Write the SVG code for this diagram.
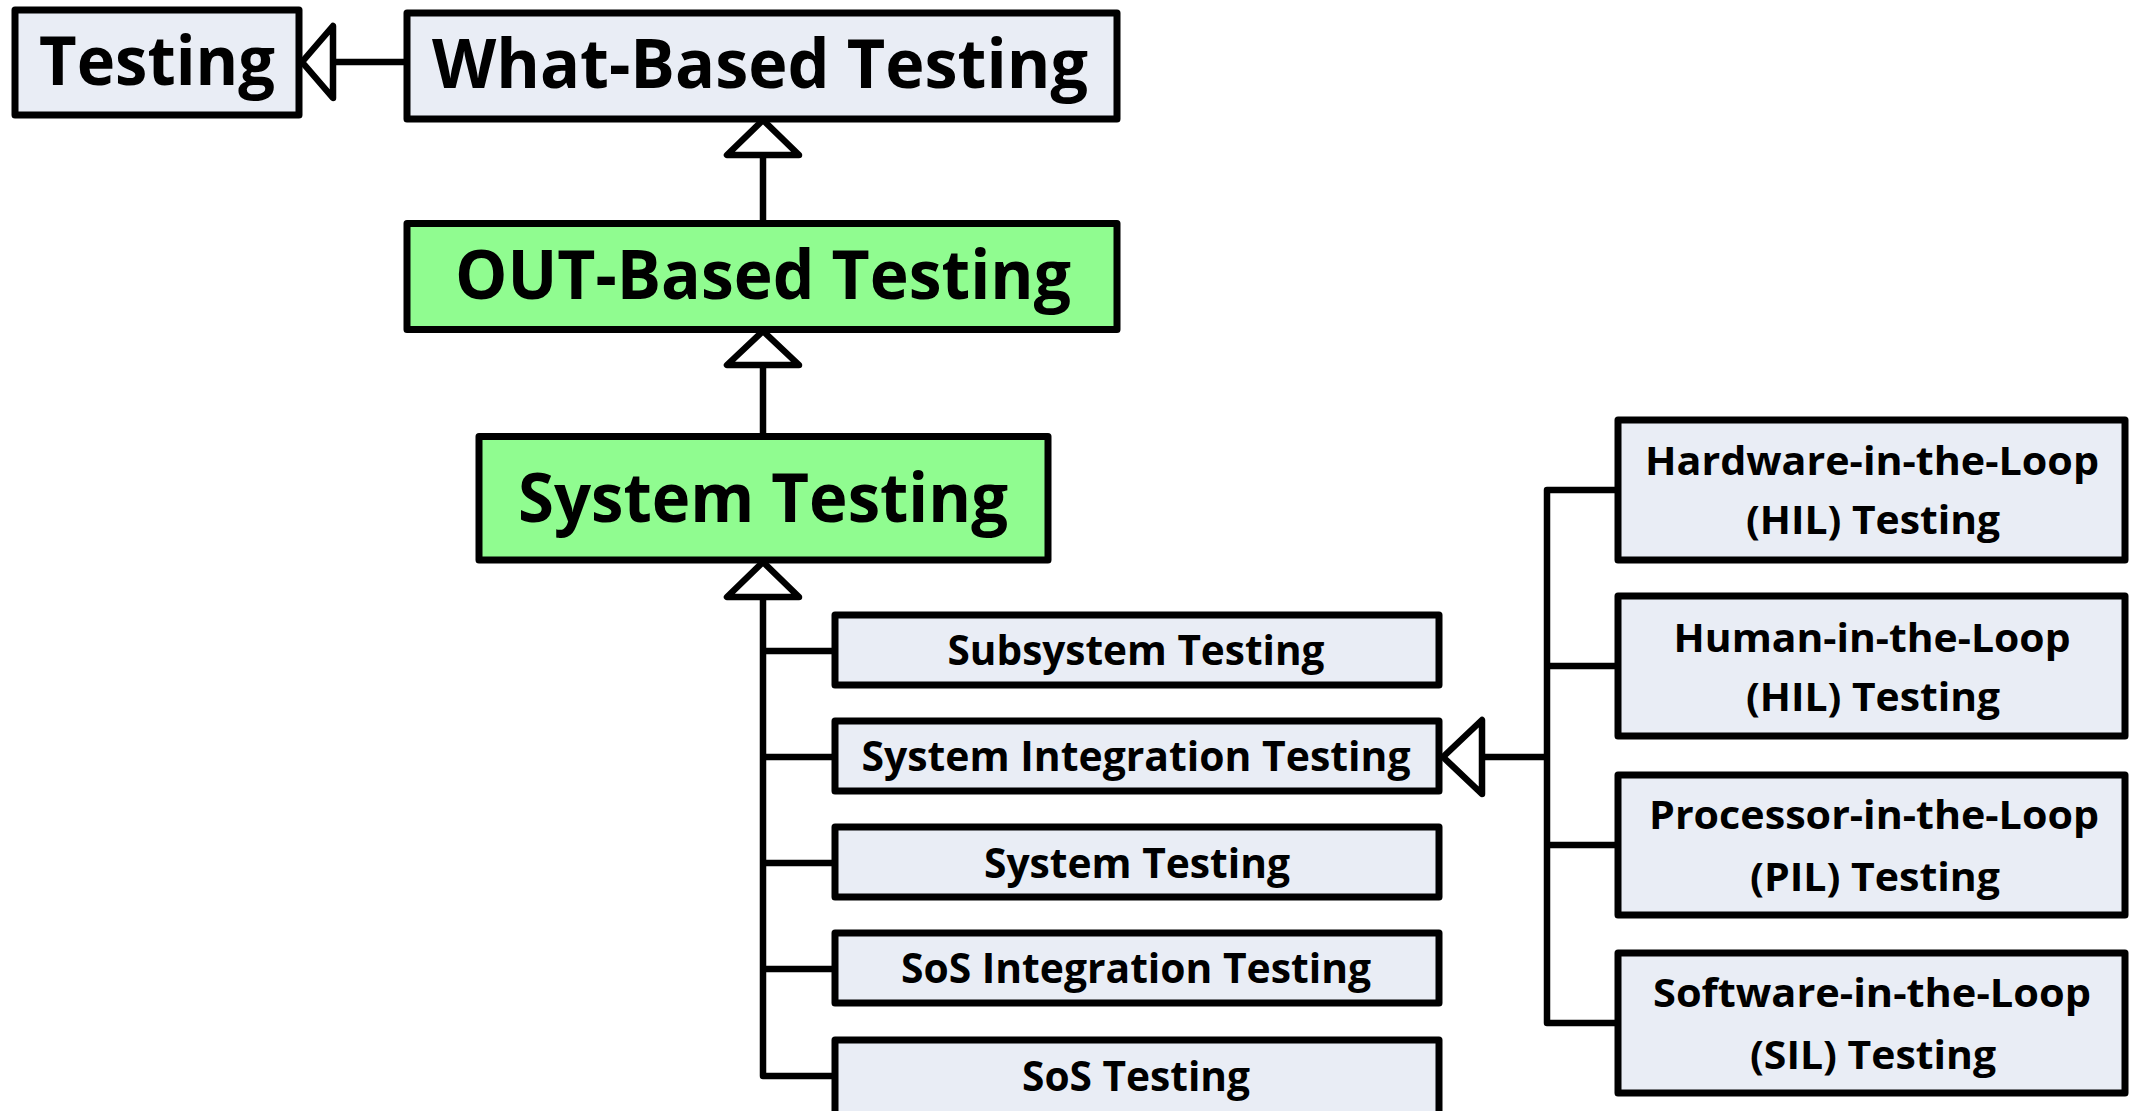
<svg xmlns="http://www.w3.org/2000/svg" width="2132" height="1111" viewBox="0 0 2132 1111">
<style>
.box{fill:#E9EDF5;stroke:#000;stroke-width:7;stroke-linejoin:round}
.grn{fill:#90FC90;stroke:#000;stroke-width:7;stroke-linejoin:round}
.ln{fill:none;stroke:#000;stroke-width:6.5;stroke-linecap:square;stroke-linejoin:round}
.tri{fill:#fff;stroke:#000;stroke-width:6.5;stroke-linejoin:round}
text{font-family:"Open Sans","Liberation Sans",sans-serif;font-weight:bold;fill:#000;text-anchor:middle;font-variant-ligatures:none}
.big{font-size:68px}
.mid{font-size:42px}
.sm{font-size:39px}
</style>
<rect width="2132" height="1111" fill="#fff"/>
<g id="connectors">
<path class="ln" d="M333 62H404"/>
<polygon class="tri" points="302,62 333,26 333,98"/>
<path class="ln" d="M763 155V220"/>
<polygon class="tri" points="763,120 727,155 799,155"/>
<path class="ln" d="M763 365V433"/>
<polygon class="tri" points="763,331 727,365 799,365"/>
<path class="ln" d="M763 597V1076H832M763 651H832M763 757H832M763 863H832M763 969H832"/>
<polygon class="tri" points="763,562 727,597 799,597"/>
<path class="ln" d="M1482 757H1547M1615 490H1547V1023H1615M1547 666H1615M1547 845H1615"/>
<polygon class="tri" points="1443,757 1482,720 1482,794"/>
</g>
<g id="testing"><rect class="box" x="15" y="10" width="284" height="105"/><text class="big" x="157" y="85" textLength="236" lengthAdjust="spacingAndGlyphs">Testing</text></g>
<g id="what-based"><rect class="box" x="407" y="13" width="710" height="106"/><text class="big" x="760" y="88" textLength="656" lengthAdjust="spacingAndGlyphs">What-Based Testing</text></g>
<g id="out-based"><rect class="grn" x="407" y="223.5" width="710" height="106"/><text class="big" x="763" y="299" textLength="616" lengthAdjust="spacingAndGlyphs">OUT-Based Testing</text></g>
<g id="system-testing-main"><rect class="grn" x="479" y="436.5" width="569" height="123.5"/><text class="big" x="763" y="522" textLength="490" lengthAdjust="spacingAndGlyphs">System Testing</text></g>
<g id="subsystem"><rect class="box" x="835" y="615" width="604" height="70"/><text class="mid" x="1136" y="665" textLength="377" lengthAdjust="spacingAndGlyphs">Subsystem Testing</text></g>
<g id="sit"><rect class="box" x="835" y="721" width="604" height="70"/><text class="mid" x="1136" y="771" textLength="549" lengthAdjust="spacingAndGlyphs">System Integration Testing</text></g>
<g id="system-testing"><rect class="box" x="835" y="827" width="604" height="70"/><text class="mid" x="1137" y="878" textLength="306" lengthAdjust="spacingAndGlyphs">System Testing</text></g>
<g id="sos-int"><rect class="box" x="835" y="933" width="604" height="70"/><text class="mid" x="1136" y="983" textLength="470" lengthAdjust="spacingAndGlyphs">SoS Integration Testing</text></g>
<g id="sos"><rect class="box" x="835" y="1040" width="604" height="90"/><text class="mid" x="1136" y="1091" textLength="228" lengthAdjust="spacingAndGlyphs">SoS Testing</text></g>
<g id="hw-hil"><rect class="box" x="1618" y="420" width="507" height="140"/><text class="sm" x="1872" y="475" textLength="454" lengthAdjust="spacingAndGlyphs">Hardware-in-the-Loop</text><text class="sm" x="1873" y="534" textLength="254" lengthAdjust="spacingAndGlyphs">(HIL) Testing</text></g>
<g id="human-hil"><rect class="box" x="1618" y="596" width="507" height="140"/><text class="sm" x="1872" y="652" textLength="397" lengthAdjust="spacingAndGlyphs">Human-in-the-Loop</text><text class="sm" x="1873" y="711" textLength="254" lengthAdjust="spacingAndGlyphs">(HIL) Testing</text></g>
<g id="pil"><rect class="box" x="1618" y="775" width="507" height="140"/><text class="sm" x="1874" y="829" textLength="450" lengthAdjust="spacingAndGlyphs">Processor-in-the-Loop</text><text class="sm" x="1875" y="891" textLength="250" lengthAdjust="spacingAndGlyphs">(PIL) Testing</text></g>
<g id="sil"><rect class="box" x="1618" y="953" width="507" height="140"/><text class="sm" x="1872" y="1007" textLength="438" lengthAdjust="spacingAndGlyphs">Software-in-the-Loop</text><text class="sm" x="1873" y="1069" textLength="246" lengthAdjust="spacingAndGlyphs">(SIL) Testing</text></g>
</svg>
